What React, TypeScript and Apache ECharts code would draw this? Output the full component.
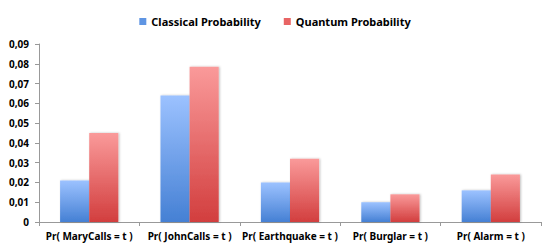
import React, { useEffect, useRef } from "react";
import * as echarts from "echarts";

const categories = [
  "Pr( MaryCalls = t )",
  "Pr( JohnCalls = t )",
  "Pr( Earthquake = t )",
  "Pr( Burglar = t )",
  "Pr( Alarm = t )",
];
const classical = [0.021, 0.064, 0.02, 0.01, 0.016];
const quantum = [0.045, 0.0785, 0.032, 0.014, 0.024];
const seriesNames = ["Classical Probability", "Quantum Probability"];

const FONT = "'Noto Sans', 'Open Sans', sans-serif";

export default function App() {
  const ref = useRef<HTMLDivElement>(null);
  useEffect(() => {
    if (!ref.current) return;
    const chart = echarts.init(ref.current, undefined, { renderer: "svg" });
    const grad = (top: string, bottom: string) =>
      new echarts.graphic.LinearGradient(0, 0, 0, 1, [
        { offset: 0, color: top },
        { offset: 1, color: bottom },
      ]);
    chart.setOption({
      animation: false,
      backgroundColor: "#ffffff",
      legend: {
        top: 11,
        left: "center",
        itemWidth: 7,
        itemHeight: 7,
        itemGap: 23,
        icon: "rect",
        textStyle: { fontFamily: FONT, fontWeight: "bold", fontSize: 11, color: "#000" },
        data: [
          { name: seriesNames[0], itemStyle: { color: "#5F95E3" } },
          { name: seriesNames[1], itemStyle: { color: "#E86464" } },
        ],
      },
      grid: { left: 39, right: 9, top: 44, bottom: 27, containLabel: false },
      xAxis: {
        type: "category",
        data: categories,
        axisLine: { lineStyle: { color: "#999", width: 1 } },
        axisTick: { show: true, alignWithLabel: false, length: 4, lineStyle: { color: "#999" } },
        axisLabel: {
          fontFamily: FONT,
          fontWeight: "bold",
          fontSize: 10,
          color: "#000",
          margin: 9,
          interval: 0,
        },
      },
      yAxis: {
        type: "value",
        min: 0,
        max: 0.09,
        interval: 0.01,
        splitLine: { show: false },
        axisLine: { show: true, lineStyle: { color: "#999", width: 1 } },
        axisTick: { show: true, length: 4, lineStyle: { color: "#999" } },
        axisLabel: {
          fontFamily: FONT,
          fontWeight: "bold",
          fontSize: 10,
          color: "#000",
          margin: 10,
          formatter: (v: number) => (v === 0 ? "0" : v.toFixed(2).replace(".", ",")),
        },
      },
      series: [
        {
          name: seriesNames[0],
          type: "bar",
          data: classical,
          barWidth: "29%",
          barGap: "0%",
          itemStyle: {
            color: grad("#9CC2FF", "#4580D4"),
            shadowColor: "rgba(0,0,0,0.25)",
            shadowBlur: 2,
            shadowOffsetX: 1,
            shadowOffsetY: 0,
          },
        },
        {
          name: seriesNames[1],
          type: "bar",
          data: quantum,
          barWidth: "29%",
          barGap: "0%",
          itemStyle: {
            color: grad("#FA9A9A", "#D23E3E"),
            shadowColor: "rgba(0,0,0,0.25)",
            shadowBlur: 2,
            shadowOffsetX: 1,
            shadowOffsetY: 0,
          },
        },
      ],
    });
    return () => chart.dispose();
  }, []);
  return <div ref={ref} style={{ width: 550, height: 249, position: "absolute", left: 0, top: 0 }} />;
}
